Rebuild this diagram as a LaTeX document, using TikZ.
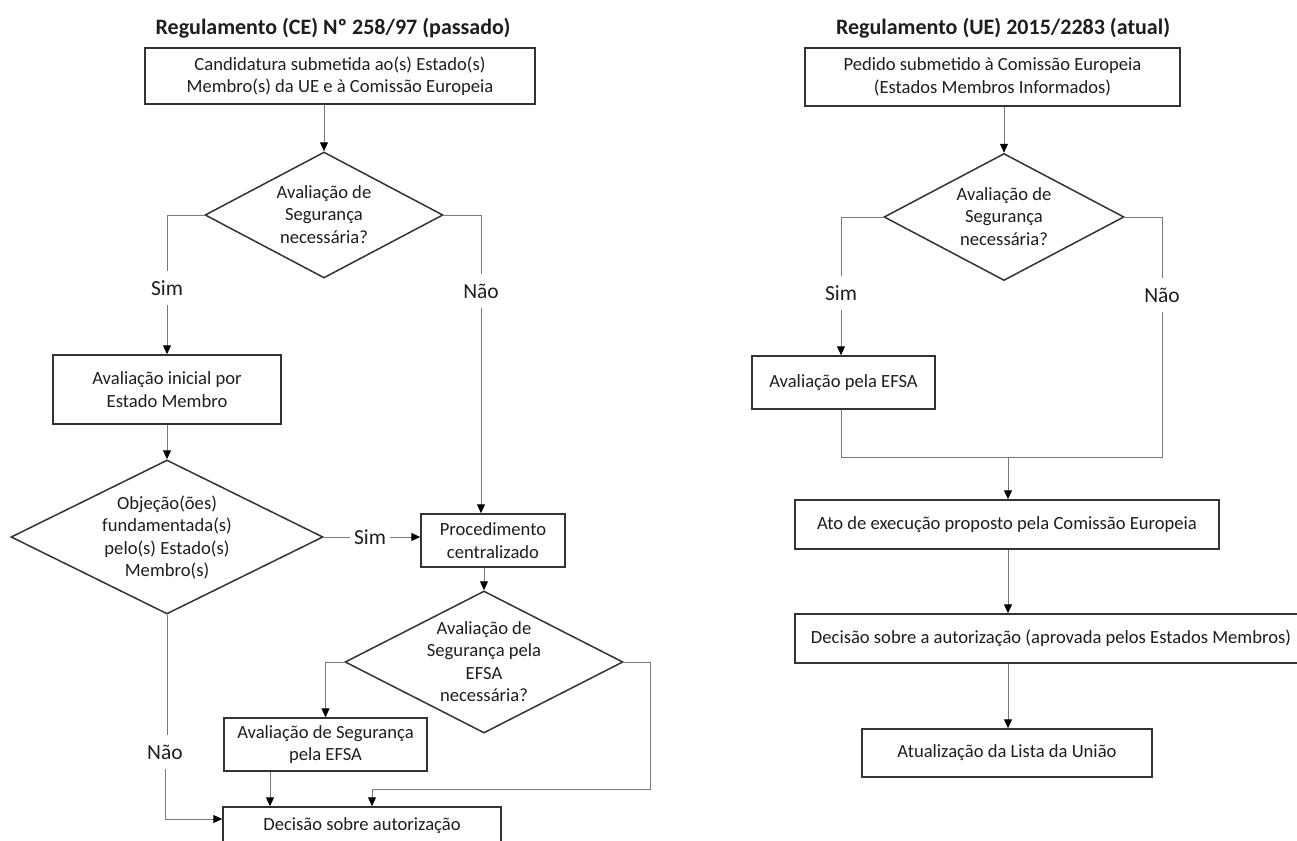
\documentclass[tikz,border=0pt]{standalone}
\usepackage{fontspec}
\setmainfont{Carlito}
\usetikzlibrary{arrows.meta,shapes.geometric,calc}
\definecolor{boxc}{HTML}{333333}
\definecolor{linec}{HTML}{7A7A7A}
\definecolor{txtc}{HTML}{1E1E1E}
\newcommand{\dtext}[1]{\makebox[0pt]{\raisebox{-0.3em}[0pt][0pt]{\begin{tabular}{@{}c@{}}#1\end{tabular}}}}
\begin{document}
\begin{tikzpicture}[x=1pt,y=-1pt,
  every node/.style={text=txtc,font=\fontsize{18.6}{22.5}\selectfont},
  stepbox/.style={draw=boxc,line width=1.5pt,rectangle,align=center,inner sep=0pt},
  decis/.style={draw=boxc,line width=1.5pt,diamond,inner sep=0pt},
  lbl/.style={inner xsep=4pt,inner ysep=0pt,minimum height=34pt,font=\fontsize{21.5}{24}\selectfont},
  ttl/.style={font=\fontsize{22}{26}\selectfont\bfseries},
  conn/.style={draw=linec,line width=1pt},
  arr/.style={conn,-{Triangle[length=9pt,width=8pt,color=black]}}]
\useasboundingbox (0,0) rectangle (1297,840);
\fill[white] (0,0) rectangle (1297,840);
% titles
\node[ttl] (tL) at (333,28) {Regulamento (CE) Nº 258/97 (passado)};
\node[ttl] (tR) at (1003,28) {Regulamento (UE) 2015/2283 (atual)};
% left column
\node[stepbox,minimum width=390pt,minimum height=56pt] (b1) at (340,76) {Candidatura submetida ao(s) Estado(s)\\Membro(s) da UE e à Comissão Europeia};
\node[decis,minimum width=238pt,minimum height=126pt] (d1) at (324,215) {\dtext{Avaliação de\\Segurança\\necessária?}};
\node[lbl] (simA) at (167,288) {Sim};
\node[lbl] (naoA) at (481,291) {Não};
\node[stepbox,minimum width=228pt,minimum height=69pt] (b2) at (167,389.5) {Avaliação inicial por\\Estado Membro};
\node[decis,minimum width=312pt,minimum height=154pt] (d2) at (167,537) {\dtext{Objeção(ões)\\fundamentada(s)\\pelo(s) Estado(s)\\Membro(s)}};
\node[lbl] (simB) at (370,537) {Sim};
\node[stepbox,minimum width=144pt,minimum height=53pt] (b3) at (493,540.5) {Procedimento\\centralizado};
\node[decis,minimum width=278pt,minimum height=142pt] (d3) at (484,662) {\dtext{Avaliação de\\Segurança pela\\EFSA\\necessária?}};
\node[stepbox,minimum width=203pt,minimum height=53pt] (b4) at (325.5,744.5) {Avaliação de Segurança\\pela EFSA};
\node[lbl] (naoB) at (165,752) {Não};
\node[stepbox,minimum width=278pt,minimum height=38pt] (b5) at (362,826) {Decisão sobre autorização};
\coordinate (c1) at (650,789);
% left connectors
\draw[arr] (b1.south -| d1.north) -- (d1.north);
\draw[conn] (d1.west) -| (simA.north);
\draw[arr] (simA.south) -- (simA.south |- b2.north);
\draw[conn] (d1.east) -| (naoA.north);
\draw[arr] (naoA.south) -- (naoA.south |- b3.north);
\draw[arr] (b2.south) -- (d2.north);
\draw[conn] (d2.east) -- (simB.west);
\draw[arr] (simB.east) -- (simB.east -| b3.west);
\draw[arr] (b3.south -| d3.north) -- (d3.north);
\draw[arr] (d3.west) -| (b4.north);
\draw[arr] (d3.east) -| (c1) -| ([xshift=10pt]b5.north);
\draw[arr] ([xshift=-55.5pt]b4.south) -- ([xshift=-55.5pt]b4.south |- b5.north);
\draw[conn] (d2.south) -- (d2.south |- naoB.north);
\draw[arr] (naoB.south) |- ([yshift=7pt]b5.west);
% right column
\node[stepbox,minimum width=375pt,minimum height=58pt] (r1) at (992.5,77) {Pedido submetido à Comissão Europeia\\(Estados Membros Informados)};
\node[decis,minimum width=240pt,minimum height=127pt] (dR) at (1004,217) {\dtext{Avaliação de\\Segurança\\necessária?}};
\node[lbl] (simR) at (841,293) {Sim};
\node[lbl] (naoR) at (1162,295) {Não};
\node[stepbox,minimum width=183pt,minimum height=53pt] (r2) at (843.5,382.5) {Avaliação pela EFSA};
\coordinate (rm) at (1008,457);
\node[stepbox,minimum width=424pt,minimum height=49pt] (r3) at (1007,524.5) {Ato de execução proposto pela Comissão Europeia};
\node[stepbox,minimum width=512pt,minimum height=49pt] (r4) at (1051,638.5) {Decisão sobre a autorização (aprovada pelos Estados Membros)};
\node[stepbox,minimum width=290pt,minimum height=48pt] (r5) at (1007,753) {Atualização da Lista da União};
% right connectors
\draw[arr] (r1.south -| dR.north) -- (dR.north);
\draw[conn] (dR.west) -| (simR.north);
\draw[arr] (simR.south) -- (simR.south |- r2.north);
\draw[conn] (dR.east) -| (naoR.north);
\draw[conn] (naoR.south) |- (rm);
\draw[conn] (r2.south -| simR.south) |- (rm);
\draw[arr] (rm) -- (rm |- r3.north);
\draw[arr] (rm |- r3.south) -- (rm |- r4.north);
\draw[arr] (rm |- r4.south) -- (rm |- r5.north);
\end{tikzpicture}
\end{document}
